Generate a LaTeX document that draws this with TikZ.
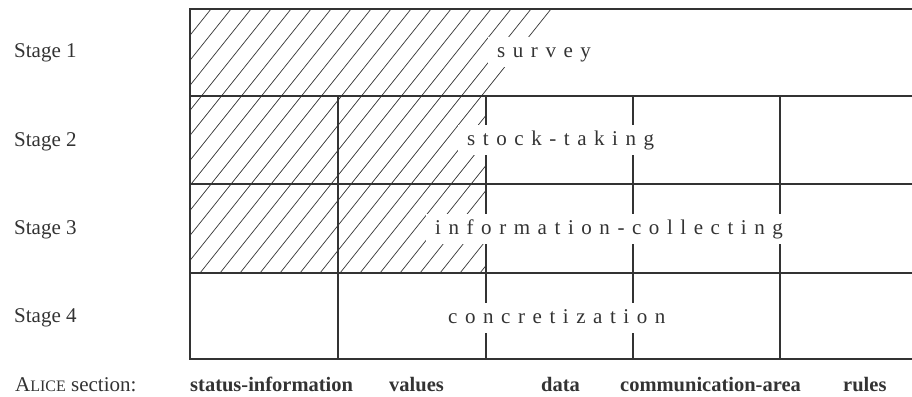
\documentclass[tikz,border=0pt]{standalone}
\usepackage{fontspec}
\setmainfont{Liberation Serif}
\newfontfamily\spacedfont[LetterSpace=36]{Liberation Serif}
\definecolor{ink}{HTML}{333333}
\tikzset{
  gridline/.style={draw=ink, line width=1.3pt},
  hatchline/.style={draw=ink, line width=0.7pt},
  stagelabel/.style={anchor=base west, inner sep=0pt, text=ink, font=\fontsize{21}{21}\selectfont},
  sectionlabel/.style={anchor=base west, inner sep=0pt, text=ink, font=\fontsize{20.5}{20.5}\selectfont\bfseries},
  phaselabel/.style={anchor=west, fill=white, inner xsep=9pt, inner ysep=5pt,
    text height=15pt, text depth=5pt, text=ink,
    font=\fontsize{21}{21}\selectfont\spacedfont}
}
\begin{document}
\begin{tikzpicture}[x=1pt,y=-1pt]
\useasboundingbox (0,0) rectangle (912,396);

% hatched area: first two sections of stages 1-3, slanted edge in stage 1
\begin{scope}
  \clip (190,9) -- (556,9) -- (486,96) -- (486,273) -- (190,273) -- cycle;
  \foreach \i in {0,...,28}
    \draw[hatchline] ({-40+\i*20},273) -- ({-40+\i*20+211},9);
\end{scope}

% grid of stages and sections
\draw[gridline] (912,9) -- (190,9) -- (190,359) -- (912,359);
\foreach \r in {96,184,273}
  \draw[gridline] (190,\r) -- (912,\r);
\foreach \c in {338,486,633,780}
  \draw[gridline] (\c,96) -- (\c,359);

% stage names
\node[stagelabel] (s1) at (14,58) {Stage 1};
\node[stagelabel] (s2) at (14,146) {Stage 2};
\node[stagelabel] (s3) at (14,234) {Stage 3};
\node[stagelabel] (s4) at (14,322) {Stage 4};

% activity of each stage
\node[phaselabel] (p1) at (488,52) {survey};
\node[phaselabel] (p2) at (458,140) {stock-taking};
\node[phaselabel] (p3) at (426,229) {information-collecting};
\node[phaselabel] (p4) at (439,318) {concretization};

% ALICE sections
\node[stagelabel] (alice) at (15,391) {A{\fontsize{16}{16}\selectfont LICE} section:};
\node[sectionlabel] (c1) at (190,391) {status-information};
\node[sectionlabel] (c2) at (389,391) {values};
\node[sectionlabel] (c3) at (541,391) {data};
\node[sectionlabel] (c4) at (620,391) {communication-area};
\node[sectionlabel] (c5) at (843,391) {rules};
\end{tikzpicture}
\end{document}
